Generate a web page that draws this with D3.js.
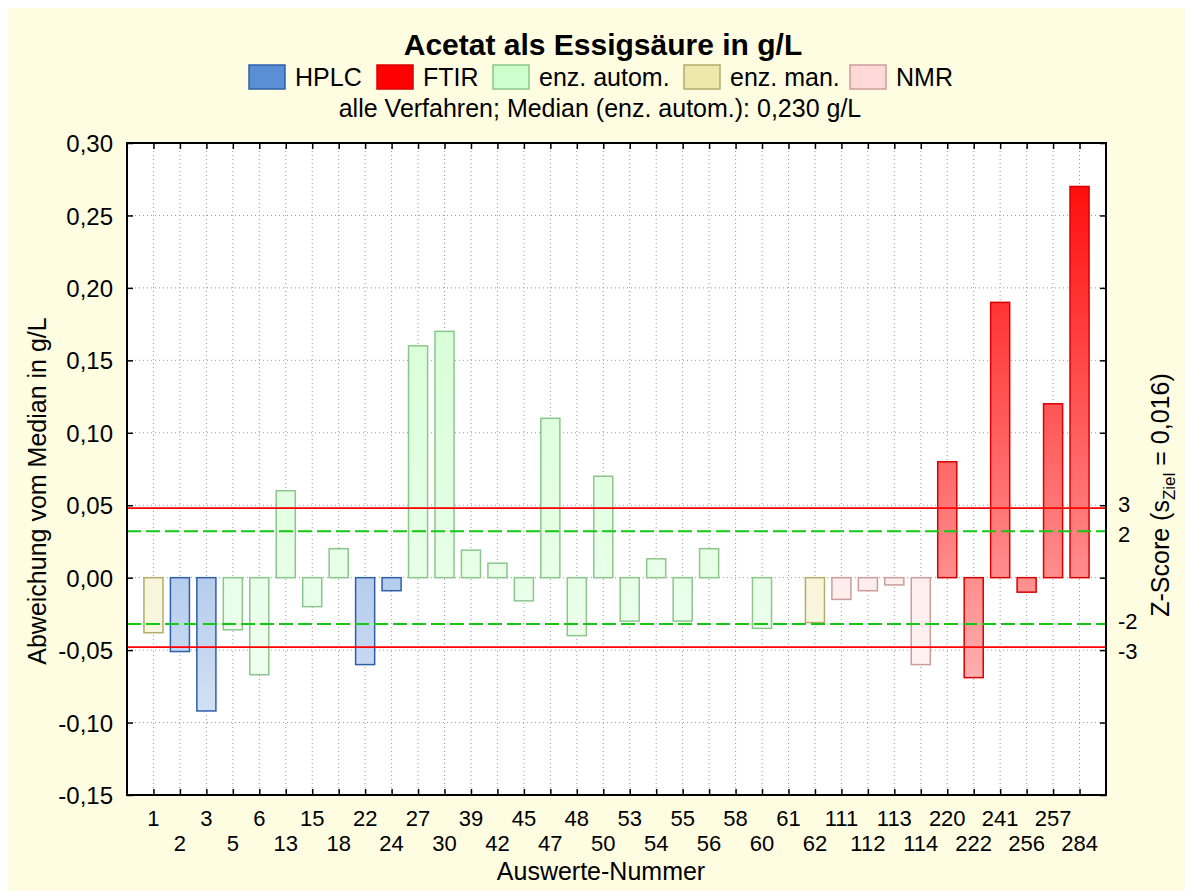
<!DOCTYPE html>
<html>
<head>
<meta charset="utf-8">
<script src="https://cdn.jsdelivr.net/npm/d3@7"></script>
<style>
  body { margin: 0; background: #fff; }
  text { font-family: "Liberation Sans", Arial, sans-serif; fill: #000; }
</style>
</head>
<body>
<div id="chart"></div>
<script>
// Auswerte-Nummern (x categories)
const labels = ["1","2","3","5","6","13","15","18","22","24","27","30","39","42","45","47","48","50",
                "53","54","55","56","58","60","61","62","111","112","113","114","220","222","241","256","257","284"];
// method of each lab
const methods = ["enz. man.","HPLC","HPLC","enz. autom.","enz. autom.","enz. autom.","enz. autom.","enz. autom.",
                 "HPLC","HPLC","enz. autom.","enz. autom.","enz. autom.","enz. autom.","enz. autom.","enz. autom.",
                 "enz. autom.","enz. autom.","enz. autom.","enz. autom.","enz. autom.","enz. autom.","enz. autom.",
                 "enz. autom.","enz. autom.","enz. man.","NMR","NMR","NMR","NMR","FTIR","FTIR","FTIR","FTIR","FTIR","FTIR"];
// deviation from median in g/L
const deviations = [-0.038,-0.051,-0.092,-0.036,-0.067,0.060,-0.020,0.020,-0.060,-0.009,0.160,0.170,
                    0.019,0.010,-0.016,0.110,-0.040,0.070,-0.030,0.013,-0.030,0.020,0.000,-0.035,0.000,
                    -0.031,-0.015,-0.009,-0.005,-0.060,0.080,-0.069,0.190,-0.010,0.120,0.270];
const legendNames = ["HPLC","FTIR","enz. autom.","enz. man.","NMR"];
const yTicks = [-0.15,-0.10,-0.05,0.00,0.05,0.10,0.15,0.20,0.25,0.30];
const sZiel = 0.016;
const zScores = [3,2,-2,-3];

const fillColors = {"HPLC":"#5a8fd6","FTIR":"#ff0000","enz. autom.":"#ccffcc","enz. man.":"#eee8aa","NMR":"#ffd8d8"};
const strokeColors = {"HPLC":"#2f5fa8","FTIR":"#d80000","enz. autom.":"#8cc68c","enz. man.":"#b4ac6c","NMR":"#cc9c9c"};

const W = 1185, H = 891;
const margin = {top: 143, right: 79, bottom: 96, left: 127},
    width = W - margin.left - margin.right,
    height = H - margin.top - margin.bottom;

const svg = d3.select("#chart").append("svg")
    .attr("width", W).attr("height", H);

// background
svg.append("rect").attr("width", W).attr("height", H).attr("fill", "#fff");
svg.append("rect").attr("x", 8).attr("y", 8).attr("width", W - 8).attr("height", H - 8).attr("fill", "#fffde1");

// gradients, dark at top of plot, pale at bottom
const defs = svg.append("defs");
legendNames.forEach((m, i) => {
    const c = d3.color(fillColors[m]);
    const pale = d3.interpolateRgb(c, "#ffffff")(0.83);
    const g = defs.append("linearGradient")
        .attr("id", "grad" + i)
        .attr("gradientUnits", "userSpaceOnUse")
        .attr("x1", 0).attr("y1", 0).attr("x2", 0).attr("y2", height);
    g.append("stop").attr("offset", "0%").attr("stop-color", c.formatHex());
    g.append("stop").attr("offset", "100%").attr("stop-color", pale);
});

const g = svg.append("g")
    .attr("transform", "translate(" + margin.left + "," + margin.top + ")");

g.append("rect").attr("width", width).attr("height", height).attr("fill", "#fff");

// scales
const x = d3.scalePoint()
    .domain(labels)
    .range([0, width])
    .padding(1);

const y = d3.scaleLinear()
    .domain([-0.15, 0.30])
    .range([height, 0]);

const barW = x.step() * 0.72;

// grid lines
g.append("g")
    .selectAll("line")
    .data(labels)
    .enter().append("line")
    .attr("x1", d => x(d)).attr("x2", d => x(d))
    .attr("y1", 0).attr("y2", height)
    .attr("stroke", "#9a9a9a").attr("stroke-width", 1)
    .attr("stroke-dasharray", "1,3");

g.append("g")
    .selectAll("line")
    .data(yTicks.slice(1, -1))
    .enter().append("line")
    .attr("x1", 0).attr("x2", width)
    .attr("y1", d => y(d)).attr("y2", d => y(d))
    .attr("stroke", "#9a9a9a").attr("stroke-width", 1)
    .attr("stroke-dasharray", "1,3");

// bars
const data = labels.map((l, i) => ({label: l, method: methods[i], value: deviations[i]}));
g.append("g")
    .selectAll("rect")
    .data(data)
    .enter().append("rect")
    .attr("x", d => x(d.label) - barW / 2)
    .attr("y", d => y(Math.max(0, d.value)))
    .attr("width", barW)
    .attr("height", d => Math.abs(y(d.value) - y(0)))
    .attr("fill", d => "url(#grad" + legendNames.indexOf(d.method) + ")")
    .attr("stroke", d => strokeColors[d.method])
    .attr("stroke-width", 1.5);

// z-score limits
[2, -2].forEach(z => {
    g.append("line")
        .attr("x1", 0).attr("x2", width)
        .attr("y1", y(z * sZiel)).attr("y2", y(z * sZiel))
        .attr("stroke", "#14c814").attr("stroke-width", 2)
        .attr("stroke-dasharray", "14,5");
});
[3, -3].forEach(z => {
    g.append("line")
        .attr("x1", 0).attr("x2", width)
        .attr("y1", y(z * sZiel)).attr("y2", y(z * sZiel))
        .attr("stroke", "#ff0000").attr("stroke-width", 1.8);
});

// axes (ticks pointing inward)
const fmt = d => d3.format(".2f")(d).replace(".", ",").replace("−", "-");
g.append("g")
    .call(d3.axisLeft(y).tickValues(yTicks).tickSize(-6).tickPadding(14).tickFormat(fmt))
    .call(a => a.select(".domain").remove())
    .call(a => a.selectAll(".tick line").attr("stroke", "#000").attr("stroke-width", 1.5))
    .call(a => a.selectAll("text").attr("font-size", 24).attr("dy", "0.36em")
        .attr("font-family", "Liberation Sans, Arial, sans-serif"));

g.append("g")
    .attr("transform", "translate(" + width + ",0)")
    .call(d3.axisRight(y).tickValues(yTicks).tickSize(-6).tickFormat(""))
    .call(a => a.select(".domain").remove())
    .call(a => a.selectAll(".tick line").attr("stroke", "#000").attr("stroke-width", 1.5));

g.append("g")
    .call(d3.axisTop(x).tickSize(-6).tickFormat(""))
    .call(a => a.select(".domain").remove())
    .call(a => a.selectAll(".tick line").attr("stroke", "#000").attr("stroke-width", 1.5));

g.append("g")
    .attr("transform", "translate(0," + height + ")")
    .call(d3.axisBottom(x).tickSize(-6).tickFormat(""))
    .call(a => a.select(".domain").remove())
    .call(a => a.selectAll(".tick line").attr("stroke", "#000").attr("stroke-width", 1.5));

// x labels, staggered in two rows
g.append("g")
    .selectAll("text")
    .data(labels)
    .enter().append("text")
    .attr("x", d => x(d))
    .attr("y", (d, i) => height + (i % 2 === 0 ? 31 : 56))
    .attr("text-anchor", "middle")
    .attr("font-size", 22)
    .text(d => d);

// frame
g.append("rect").attr("width", width).attr("height", height)
    .attr("fill", "none").attr("stroke", "#000").attr("stroke-width", 2);

// right z-score labels, nudged apart like the original
g.append("g")
    .selectAll("text")
    .data(zScores)
    .enter().append("text")
    .attr("x", width + 12)
    .attr("y", d => y(d * sZiel) + 8 + (Math.abs(d) === 3 ? -4 : 3) * Math.sign(d))
    .attr("font-size", 22)
    .text(d => d);

// axis titles
svg.append("text")
    .attr("transform", "translate(46,491) rotate(-90)")
    .attr("text-anchor", "middle")
    .attr("font-size", 25)
    .text("Abweichung vom Median in g/L");

const zt = svg.append("text")
    .attr("transform", "translate(1169,495) rotate(-90)")
    .attr("text-anchor", "middle")
    .attr("font-size", 25);
zt.append("tspan").text("Z-Score (s");
zt.append("tspan").attr("font-size", 17).attr("dy", 6).text("Ziel");
zt.append("tspan").attr("dy", -6).text(" = 0,016)");

svg.append("text")
    .attr("x", 601)
    .attr("y", 880)
    .attr("text-anchor", "middle")
    .attr("font-size", 25)
    .text("Auswerte-Nummer");

// title and subtitle
svg.append("text")
    .attr("x", 603).attr("y", 55)
    .attr("text-anchor", "middle")
    .attr("font-size", 30).attr("font-weight", "bold")
    .text("Acetat als Essigsäure in g/L");

svg.append("text")
    .attr("x", 600).attr("y", 117)
    .attr("text-anchor", "middle")
    .attr("font-size", 25)
    .text("alle Verfahren; Median (enz. autom.): 0,230 g/L");

// legend
const legendX = [249, 377, 493, 684, 850];
const legend = svg.append("g");
legendNames.forEach((m, i) => {
    legend.append("rect")
        .attr("x", legendX[i]).attr("y", 65)
        .attr("width", 36).attr("height", 24)
        .attr("fill", fillColors[m])
        .attr("stroke", strokeColors[m]).attr("stroke-width", 1.5);
    legend.append("text")
        .attr("x", legendX[i] + 46).attr("y", 86)
        .attr("font-size", 25)
        .text(m);
});
</script>
</body>
</html>
